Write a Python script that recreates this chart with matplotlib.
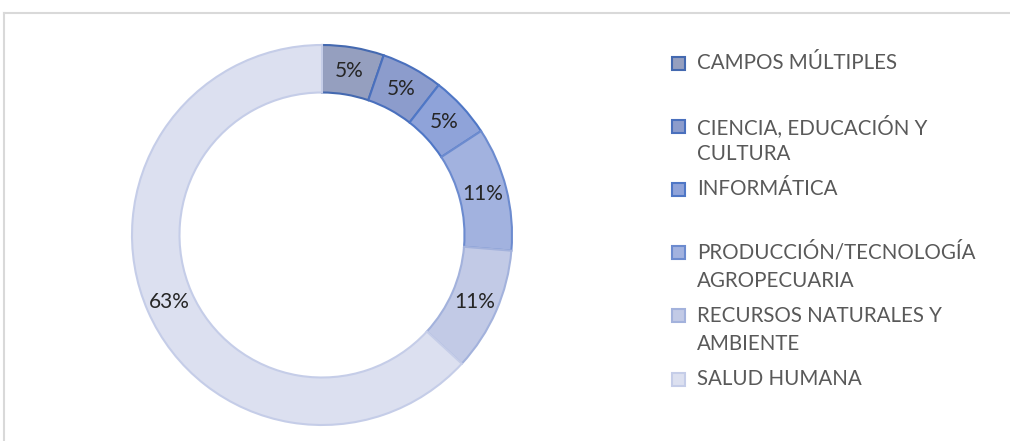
import matplotlib.pyplot as plt
import matplotlib.patches as mp
from matplotlib.lines import Line2D

# data
labels = ["CAMPOS MÚLTIPLES", "CIENCIA, EDUCACIÓN Y\nCULTURA", "INFORMÁTICA",
          "PRODUCCIÓN/TECNOLOGÍA\nAGROPECUARIA", "RECURSOS NATURALES Y\nAMBIENTE",
          "SALUD HUMANA"]
counts = [1, 1, 1, 2, 2, 12]

fills = ["#959fbf", "#8c9ccc", "#8fa3d9", "#a2b2df", "#c2cae6", "#dce0f0"]
edges = ["#4469b0", "#4a70bd", "#4f77c6", "#6c8bcf", "#a3b2dc", "#c5cde8"]

W, H = 1010, 441
fig = plt.figure(figsize=(W / 100, H / 100), dpi=100)
plt.rcParams['font.family'] = ['Lato', 'DejaVu Sans']

# chart frame (top and left edges only visible)
fig.lines.append(Line2D([4 / W, 1.0], [(H - 13) / H] * 2, transform=fig.transFigure,
                        color="#d9d9d9", lw=1.5))
fig.lines.append(Line2D([4 / W] * 2, [0, (H - 13) / H], transform=fig.transFigure,
                        color="#d9d9d9", lw=1.5))

cx, cy, r = 322, 235, 190
ax = fig.add_axes([(cx - r) / W, (H - cy - r) / H, 2 * r / W, 2 * r / H])
wedges, texts, autotexts = ax.pie(counts, colors=fills, startangle=90, counterclock=False,
                                  radius=1, autopct="%1.0f%%", pctdistance=0.875,
                                  wedgeprops=dict(width=0.25, linewidth=1.5),
                                  textprops=dict(fontsize=15, color="#262626"))
for w, e in zip(wedges, edges):
    w.set_edgecolor(e)
ax.set_xlim(-1, 1)
ax.set_ylim(-1, 1)
ax.set_aspect("equal")

# legend, one 63px slot per entry
for i, lab in enumerate(labels):
    y0 = 63 + 63.2 * i
    fig.patches.append(mp.Rectangle((672 / W, (H - y0 - 6.5) / H), 13 / W, 13 / H,
                                    transform=fig.transFigure, facecolor=fills[i],
                                    edgecolor=edges[i], lw=1.5))
    for k, line in enumerate(lab.split("\n")):
        fig.text(697 / W, (H - y0 - 28 * k) / H, line, fontsize=14.8, color="#595959",
                 va="center", ha="left")

fig.savefig("out.png", dpi=100)
